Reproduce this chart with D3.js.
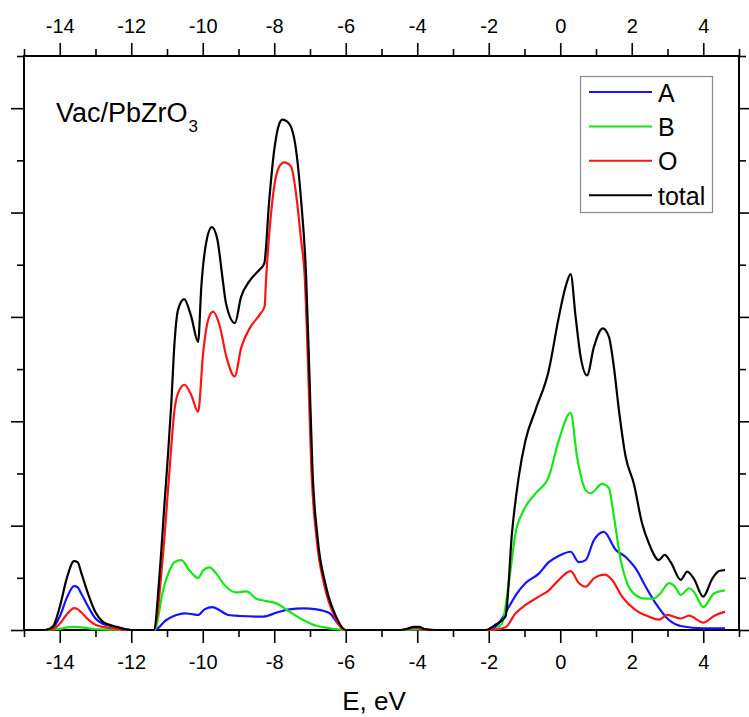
<!DOCTYPE html>
<html>
<head>
<meta charset="utf-8">
<script src="https://cdn.jsdelivr.net/npm/d3@7"></script>
<style>
  body { margin: 0; background: #fff; }
  svg { display: block; font-family: "Liberation Sans", Arial, sans-serif; }
</style>
</head>
<body>
<svg id="chart" width="749" height="717"></svg>
<script>
// partial densities of states, [E (eV), DOS (arb. units)]
const dosA = [
  [-14.4,0],[-14.2,0.02],[-14.0,0.13],[-13.8,0.31],[-13.6,0.42],[-13.5,0.41],[-13.4,0.35],[-13.2,0.22],[-13.0,0.11],[-12.8,0.06],[-12.6,0.04],[-12.4,0.02],[-12.2,0.01],[-12.0,0],
  [-11.35,0],[-11.02,0.096],[-10.74,0.144],[-10.51,0.16],[-10.32,0.153],[-10.13,0.144],[-9.95,0.198],[-9.73,0.22],[-9.53,0.19],[-9.29,0.144],[-8.97,0.134],[-8.31,0.128],[-7.94,0.166],[-7.57,0.198],[-7.19,0.207],[-6.82,0.198],[-6.45,0.16],[-6.26,0.08],[-6.03,0],
  [-4.5,0],[-4.0,0.005],[-3.5,0],
  [-1.95,0],[-1.72,0.064],[-1.44,0.22],[-1.21,0.35],[-0.97,0.45],[-0.6,0.54],[-0.32,0.65],[-0.04,0.71],[0.29,0.75],[0.52,0.65],[0.71,0.67],[0.94,0.86],[1.22,0.94],[1.55,0.77],[1.83,0.70],[2.11,0.59],[2.39,0.415],[2.67,0.255],[3.04,0.096],[3.37,0.038],[4.0,0.016],[4.61,0.016]
];
const dosB = [
  [-14.4,0],[-14.0,0.01],[-13.8,0.025],[-13.6,0.03],[-13.4,0.025],[-13.2,0.015],[-13.0,0.008],[-12.6,0.003],[-12.0,0],
  [-11.35,0],[-11.11,0.38],[-10.93,0.57],[-10.79,0.65],[-10.60,0.67],[-10.37,0.57],[-10.13,0.50],[-9.99,0.57],[-9.81,0.60],[-9.62,0.54],[-9.39,0.43],[-9.06,0.36],[-8.78,0.37],[-8.5,0.30],[-8.27,0.28],[-7.94,0.255],[-7.57,0.175],[-7.19,0.096],[-6.82,0.04],[-6.45,0.016],[-6.03,0],
  [-4.5,0],[-4.0,0.005],[-3.5,0],
  [-1.9,0],[-1.63,0.064],[-1.44,0.45],[-1.25,0.93],[-1.02,1.15],[-0.69,1.31],[-0.32,1.47],[-0.04,1.82],[0.29,2.08],[0.47,1.66],[0.71,1.34],[0.85,1.31],[1.17,1.40],[1.36,1.36],[1.50,1.09],[1.69,0.67],[1.87,0.45],[2.11,0.335],[2.39,0.30],[2.6,0.30],[2.8,0.35],[3.04,0.45],[3.2,0.42],[3.37,0.335],[3.60,0.40],[3.75,0.36],[4.0,0.22],[4.30,0.35],[4.61,0.38]
];
const dosO = [
  [-14.4,0],[-14.2,0.01],[-14.0,0.06],[-13.8,0.15],[-13.6,0.21],[-13.5,0.2],[-13.4,0.17],[-13.2,0.1],[-13.0,0.05],[-12.8,0.03],[-12.6,0.02],[-12.4,0.01],[-12.2,0],[-12.0,0],
  [-11.37,0],[-11.11,0.73],[-10.93,1.53],[-10.79,2.11],[-10.69,2.27],[-10.51,2.35],[-10.32,2.25],[-10.13,2.09],[-9.99,2.65],[-9.85,2.97],[-9.71,3.05],[-9.53,2.92],[-9.34,2.62],[-9.11,2.43],[-8.92,2.71],[-8.69,2.89],[-8.41,3.02],[-8.27,3.10],[-8.23,3.35],[-8.05,4.12],[-7.86,4.44],[-7.72,4.48],[-7.53,4.44],[-7.39,4.18],[-7.25,3.74],[-7.15,3.4],[-7.05,2.49],[-6.96,1.53],[-6.82,0.89],[-6.59,0.415],[-6.31,0.13],[-6.03,0],
  [-4.5,0],[-4.3,0.008],[-4.05,0.02],[-3.8,0.006],[-3.5,0],
  [-1.9,0],[-1.53,0.026],[-1.25,0.16],[-0.97,0.24],[-0.6,0.32],[-0.32,0.38],[-0.04,0.48],[0.29,0.565],[0.52,0.45],[0.71,0.415],[0.94,0.495],[1.25,0.53],[1.45,0.48],[1.73,0.32],[2.11,0.19],[2.48,0.128],[2.76,0.10],[3.0,0.144],[3.37,0.11],[3.60,0.137],[4.0,0.07],[4.30,0.134],[4.61,0.176]
];
const dosTotal = [
  [-14.4,0],[-14.2,0.03],[-14.0,0.22],[-13.8,0.5],[-13.6,0.66],[-13.5,0.65],[-13.4,0.55],[-13.2,0.34],[-13.0,0.17],[-12.8,0.08],[-12.6,0.05],[-12.4,0.03],[-12.2,0.01],[-12.0,0],
  [-11.37,0],[-11.2,0.57],[-11.07,1.21],[-10.97,1.69],[-10.88,2.17],[-10.79,2.75],[-10.69,3.07],[-10.52,3.17],[-10.32,3.0],[-10.13,2.76],[-10.04,3.29],[-9.91,3.70],[-9.745,3.86],[-9.59,3.74],[-9.45,3.38],[-9.35,3.13],[-9.10,2.94],[-8.93,3.19],[-8.70,3.34],[-8.42,3.45],[-8.28,3.51],[-8.14,4.12],[-8.0,4.6],[-7.86,4.85],[-7.77,4.89],[-7.58,4.85],[-7.39,4.6],[-7.25,4.12],[-7.11,3.4],[-7.02,2.49],[-6.93,1.53],[-6.79,0.89],[-6.55,0.415],[-6.27,0.128],[-6.0,0],
  [-4.5,0],[-4.3,0.01],[-4.1,0.03],[-3.95,0.03],[-3.8,0.01],[-3.5,0],
  [-2.09,0],[-1.81,0.05],[-1.53,0.13],[-1.35,0.93],[-1.16,1.47],[-0.97,1.82],[-0.69,2.11],[-0.32,2.49],[-0.04,3.0],[0.15,3.29],[0.29,3.41],[0.43,3.0],[0.57,2.62],[0.75,2.44],[0.94,2.71],[1.19,2.89],[1.36,2.81],[1.50,2.52],[1.64,2.11],[1.83,1.66],[2.06,1.40],[2.29,1.02],[2.48,0.83],[2.76,0.67],[2.92,0.72],[3.09,0.65],[3.37,0.48],[3.55,0.56],[3.74,0.49],[4.0,0.32],[4.25,0.49],[4.44,0.565],[4.61,0.575]
];

const seriesNames = ["A", "B", "O", "total"];
const seriesColors = ["#1414ff", "#14e614", "#ff1414", "#000000"];
const seriesData = [dosA, dosB, dosO, dosTotal];

const xMajor = [-14, -12, -10, -8, -6, -4, -2, 0, 2, 4];
const xMinor = [-15, -13, -11, -9, -7, -5, -3, -1, 1, 3, 5];
const yMajor = [0, 1, 2, 3, 4, 5];
const yMinor = [0.5, 1.5, 2.5, 3.5, 4.5, 5.5];

const W = 749, H = 717;
const margin = { top: 56, right: 10, bottom: 87, left: 24 };

const svg = d3.select("#chart");

const x = d3.scaleLinear().domain([-15, 5]).range([margin.left, W - margin.right]);
const y = d3.scaleLinear().domain([0, 5.5]).range([H - margin.bottom, margin.top]);

const fmtTick = d => (d < 0 ? "-" + Math.abs(d) : String(d));

function styleAxis(g) {
  g.select(".domain").remove();
  g.selectAll(".tick line").attr("stroke", "#000").attr("stroke-width", 1.6);
  g.selectAll(".tick text").attr("fill", "#000").attr("font-size", 20)
    .attr("font-family", "'Liberation Sans', Arial, sans-serif");
}

// bottom
svg.append("g").attr("transform", `translate(0,${y(0)})`)
  .call(d3.axisBottom(x).tickValues(xMinor).tickSize(7).tickFormat(""))
  .call(styleAxis);
svg.append("g").attr("transform", `translate(0,${y(0)})`)
  .call(d3.axisBottom(x).tickValues(xMajor).tickSize(13).tickPadding(12).tickFormat(fmtTick))
  .call(styleAxis);

// top
svg.append("g").attr("transform", `translate(0,${y(5.5)})`)
  .call(d3.axisTop(x).tickValues(xMinor).tickSize(7).tickFormat(""))
  .call(styleAxis);
svg.append("g").attr("transform", `translate(0,${y(5.5)})`)
  .call(d3.axisTop(x).tickValues(xMajor).tickSize(13).tickPadding(10).tickFormat(fmtTick))
  .call(styleAxis);

// left / right, no labels
[[d3.axisLeft, x(-15)], [d3.axisRight, x(5)]].forEach(([ax, pos]) => {
  svg.append("g").attr("transform", `translate(${pos},0)`)
    .call(ax(y).tickValues(yMinor).tickSize(7).tickFormat(""))
    .call(styleAxis);
  svg.append("g").attr("transform", `translate(${pos},0)`)
    .call(ax(y).tickValues(yMajor).tickSize(13).tickFormat(""))
    .call(styleAxis);
});

// frame
svg.append("rect")
  .attr("x", x(-15)).attr("y", y(5.5))
  .attr("width", x(5) - x(-15)).attr("height", y(0) - y(5.5))
  .attr("fill", "none").attr("stroke", "#000").attr("stroke-width", 2);

// curves
const line = d3.line()
  .x(d => x(d[0]))
  .y(d => y(d[1]))
  .curve(d3.curveMonotoneX);

seriesData.forEach((data, i) => {
  svg.append("path")
    .datum(data)
    .attr("fill", "none")
    .attr("stroke", seriesColors[i])
    .attr("stroke-width", 2.2)
    .attr("stroke-linejoin", "round")
    .attr("d", line);
});

// axis title
svg.append("text")
  .attr("x", 374).attr("y", 710)
  .attr("text-anchor", "middle")
  .attr("font-size", 26)
  .text("E, eV");

// panel label
const label = svg.append("text").attr("x", 56).attr("y", 122).attr("font-size", 27);
label.append("tspan").text("Vac/PbZrO");
label.append("tspan").attr("font-size", 17).attr("dx", 1).attr("dy", 10).text("3");

// legend
const lg = svg.append("g");
lg.append("rect")
  .attr("x", 580.5).attr("y", 76.5).attr("width", 132).attr("height", 136)
  .attr("fill", "#fff").attr("stroke", "#888").attr("stroke-width", 1.2);

seriesNames.forEach((name, i) => {
  const yy = 92 + i * 34.4;
  lg.append("line")
    .attr("x1", 589).attr("x2", 652).attr("y1", yy).attr("y2", yy)
    .attr("stroke", seriesColors[i]).attr("stroke-width", 2);
  lg.append("text")
    .attr("x", 658).attr("y", yy + 9.5)
    .attr("font-size", 25)
    .text(name);
});
</script>
</body>
</html>
